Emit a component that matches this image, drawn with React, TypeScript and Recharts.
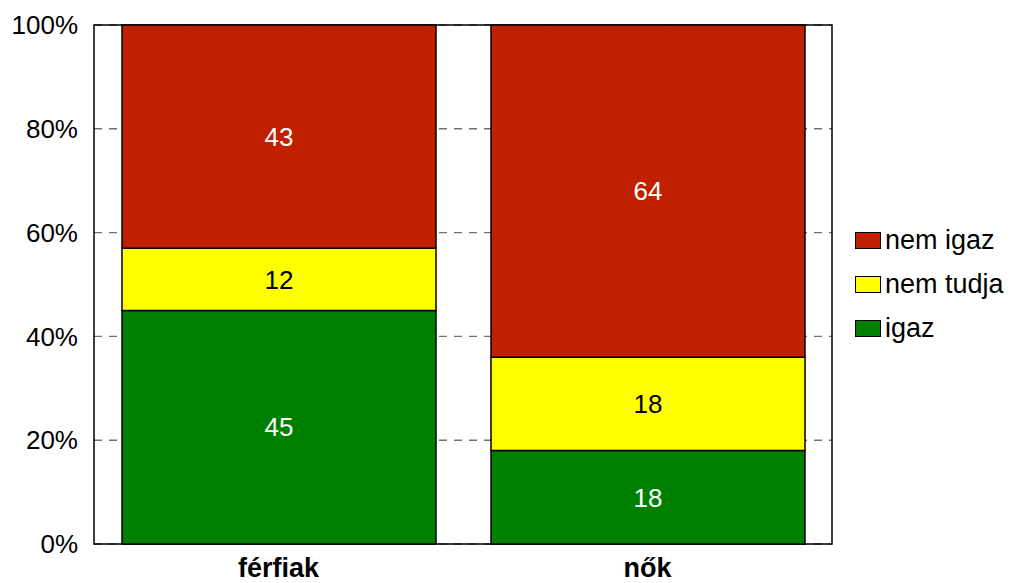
import React from "react";
import { BarChart, Bar, XAxis, YAxis, CartesianGrid, LabelList, ReferenceArea } from "recharts";

const categories = ["férfiak", "nők"];
const igaz = [45, 18];
const nemTudja = [12, 18];
const nemIgaz = [43, 64];
const yTicks = [0, 20, 40, 60, 80, 100];

const data = categories.map((c, i) => ({ name: c, igaz: igaz[i], nemTudja: nemTudja[i], nemIgaz: nemIgaz[i] }));

const RED = "#C02000";
const YELLOW = "#FFFF00";
const GREEN = "#008000";
const FONT = "'Liberation Sans', Arial, sans-serif";

const legendItems = [
  { label: "nem igaz", color: RED },
  { label: "nem tudja", color: YELLOW },
  { label: "igaz", color: GREEN },
];

const LegendBox = () => (
  <div style={{ position: "absolute", left: 855, top: 218, fontFamily: FONT, fontSize: 27, color: "#000" }}>
    {legendItems.map((it) => (
      <div key={it.label} style={{ display: "flex", alignItems: "center", height: 44 }}>
        <div style={{ width: 24, height: 15, background: it.color, border: "1px solid #000", marginRight: 4 }} />
        <span>{it.label}</span>
      </div>
    ))}
  </div>
);

export default function App() {
  return (
    <div style={{ position: "absolute", left: 0, top: 0, width: 1019, height: 583 }}>
      <BarChart
        width={1019}
        height={583}
        data={data}
        margin={{ top: 25, right: 187, bottom: 0, left: 14 }}
        barSize={314}
      >
        <CartesianGrid vertical={false} stroke="#707070" strokeDasharray="8 7" strokeWidth={1.4} />
        <XAxis
          dataKey="name"
          height={39}
          axisLine={false}
          tickLine={false}
          tickMargin={8}
          tick={{ fontFamily: FONT, fontSize: 27, fontWeight: "bold", fill: "#000" }}
        />
        <YAxis
          width={80}
          domain={[0, 100]}
          ticks={yTicks}
          axisLine={false}
          tickLine={false}
          tickMargin={10}
          tickFormatter={(v) => `${v}%`}
          tick={{ fontFamily: FONT, fontSize: 26, fill: "#000" }}
        />
        <Bar dataKey="igaz" stackId="a" fill={GREEN} stroke="#000" strokeWidth={1.5} isAnimationActive={false}>
          <LabelList dataKey="igaz" position="center" fill="#fff" style={{ fontFamily: FONT, fontSize: 26 }} />
        </Bar>
        <Bar dataKey="nemTudja" stackId="a" fill={YELLOW} stroke="#000" strokeWidth={1.5} isAnimationActive={false}>
          <LabelList dataKey="nemTudja" position="center" fill="#000" style={{ fontFamily: FONT, fontSize: 26 }} />
        </Bar>
        <Bar dataKey="nemIgaz" stackId="a" fill={RED} stroke="#000" strokeWidth={1.5} isAnimationActive={false}>
          <LabelList dataKey="nemIgaz" position="center" fill="#fff" style={{ fontFamily: FONT, fontSize: 26 }} />
        </Bar>
        <ReferenceArea y1={0} y2={100} fill="none" stroke="#000" strokeWidth={1.5} ifOverflow="visible" />
      </BarChart>
      <LegendBox />
    </div>
  );
}
